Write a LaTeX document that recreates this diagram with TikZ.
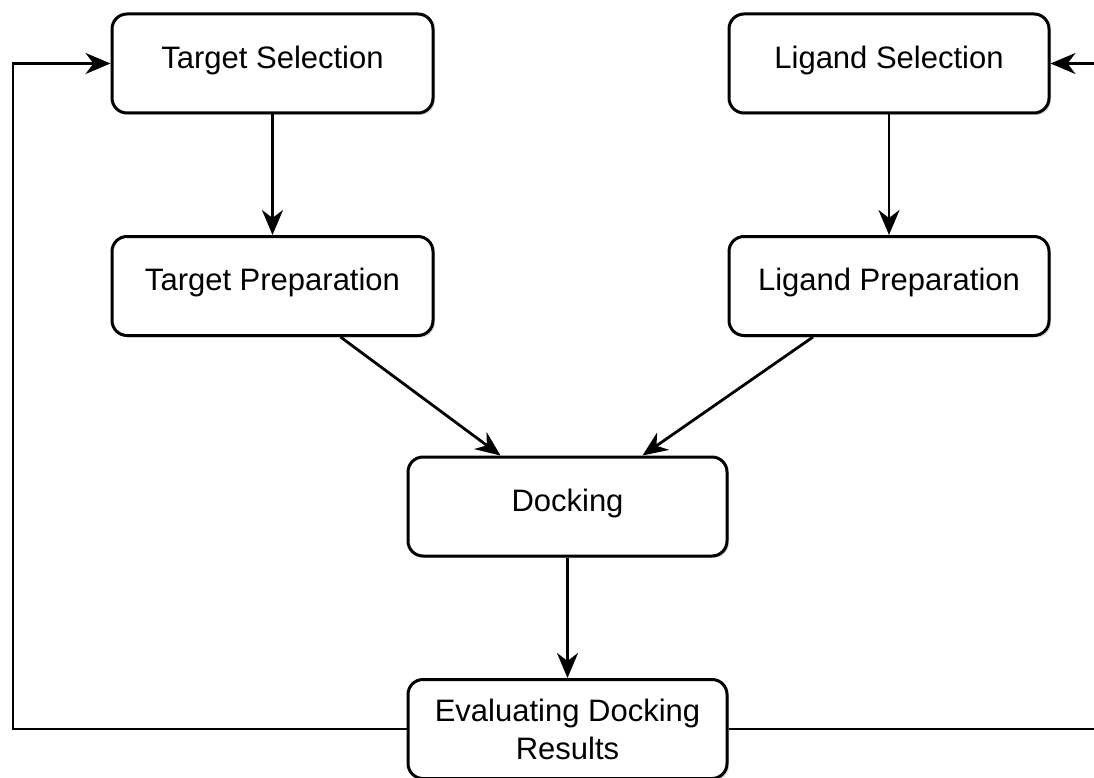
\documentclass[tikz,border=0pt]{standalone}
\usepackage{fontspec}
\setmainfont{Liberation Sans}
\usetikzlibrary{arrows.meta,calc,shadows}
\newcommand{\uptext}[1]{\raisebox{3.5pt}[\height][\depth]{#1}}
\begin{document}
\begin{tikzpicture}[x=1pt,y=-1pt,
  box/.style={draw=black, line width=3pt, rounded corners=15pt, fill=white,
    minimum width=321pt, minimum height=99pt, align=center,
    font=\fontsize{31}{38}\selectfont,
    drop shadow={shadow xshift=2pt, shadow yshift=-2pt, opacity=0.3}},
  conn/.style={draw=black, line width=2.8pt},
  arr/.style={conn, -{Stealth[length=25pt,width=21pt,inset=8pt]}}]
\useasboundingbox (0,0) rectangle (1094,778);
\fill[white] (0,0) rectangle (1094,778);
\node[box] (ts) at (272.5,63.5) {\uptext{Target Selection}};
\node[box, minimum width=320pt] (ls) at (889,63.5) {\uptext{Ligand Selection}};
\node[box] (tp) at (272.5,286) {\uptext{Target Preparation}};
\node[box, minimum width=320pt] (lp) at (889,286) {\uptext{Ligand Preparation}};
\node[box, minimum width=319pt] (dk) at (567.5,506.5) {\uptext{Docking}};
\node[box, minimum width=319pt] (ev) at (567.5,729) {Evaluating Docking\\Results};
\coordinate (lc) at (13,729);
\coordinate (rc) at (1102,729);
\draw[arr] (ts) -- (tp);
\draw[arr] (ls) -- (lp);
\draw[arr] ($(tp.south)+(68,0)$) -- ($(dk.north)+(-67,0)$);
\draw[arr] ($(lp.south)+(-76,0)$) -- ($(dk.north)+(75,0)$);
\draw[arr] (dk) -- (ev);
\draw[arr] (ev.west) -- (lc) |- (ts.west);
\draw[arr] (ev.east) -- (rc) |- (ls.east);
\end{tikzpicture}
\end{document}
